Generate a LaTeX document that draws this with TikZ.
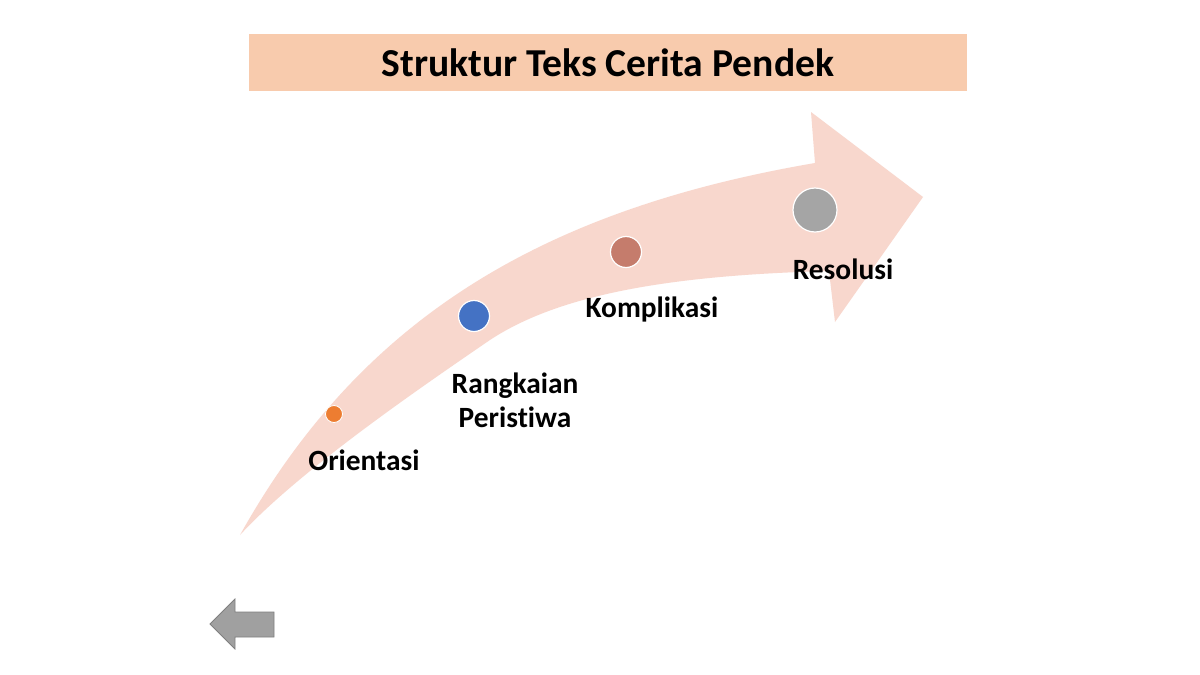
\documentclass[tikz,border=0pt]{standalone}
\usepackage{fontspec}
\setmainfont[Ligatures=NoCommon]{Carlito}
\definecolor{titlefill}{HTML}{F8CBAD}
\definecolor{bandfill}{HTML}{F8D7CD}
\definecolor{dotorange}{HTML}{ED7D31}
\definecolor{dotblue}{HTML}{4472C4}
\definecolor{dotbrown}{HTML}{C57C6C}
\definecolor{dotgray}{HTML}{A5A5A5}
\definecolor{backfill}{HTML}{A0A0A0}
\definecolor{backline}{HTML}{7F7F7F}
\tikzset{
  dot/.style={circle, draw=white, line width=0.6pt, inner sep=0pt, minimum size=#1},
  lbl/.style={font=\fontsize{14.7}{17}\selectfont\bfseries, align=center, inner sep=0pt, text=black},
  titletext/.style={font=\fontsize{19.8}{23}\selectfont\bfseries, inner sep=0pt, text=black}
}
\begin{document}
\begin{tikzpicture}[x=0.5pt, y=-0.5pt]
\useasboundingbox (0,0) rectangle (1200,675);
\fill[white] (0,0) rectangle (1200,675);
% title bar
\fill[titlefill] (249,34) rectangle (967,91);
\node[titletext] (title) at (608,63) {Struktur Teks Cerita Pendek};
% curved arrow band
\fill[bandfill] (240,535) .. controls (360,320) and (540,210) .. (815,163)
  -- (811,112) -- (923,197) -- (835,322) -- (829,271)
  .. controls (680,275) and (560,292) .. (487,342)
  .. controls (420,388) and (300,470) .. (240,535) -- cycle;
% dots
\node[dot=8.5pt, fill=dotorange, line width=0.4pt] (d1) at (334,414) {};
\node[dot=15.5pt, fill=dotblue] (d2) at (474,316) {};
\node[dot=15.5pt, fill=dotbrown] (d3) at (626,252) {};
\node[dot=22pt, fill=dotgray] (d4) at (815,210) {};
% labels
\node[lbl] (l1) at (364,460) {Orientasi};
\node[lbl] (l2) at (515,400) {Rangkaian\\Peristiwa};
\node[lbl] (l3) at (652,309) {Komplikasi};
\node[lbl] (l4) at (843,269) {Resolusi};
% back arrow
\filldraw[fill=backfill, draw=backline, line width=0.4pt]
  (210,624) -- (235,599) -- (235,612) -- (274,612) -- (274,637)
  -- (235,637) -- (235,649) -- cycle;
\end{tikzpicture}
\end{document}
